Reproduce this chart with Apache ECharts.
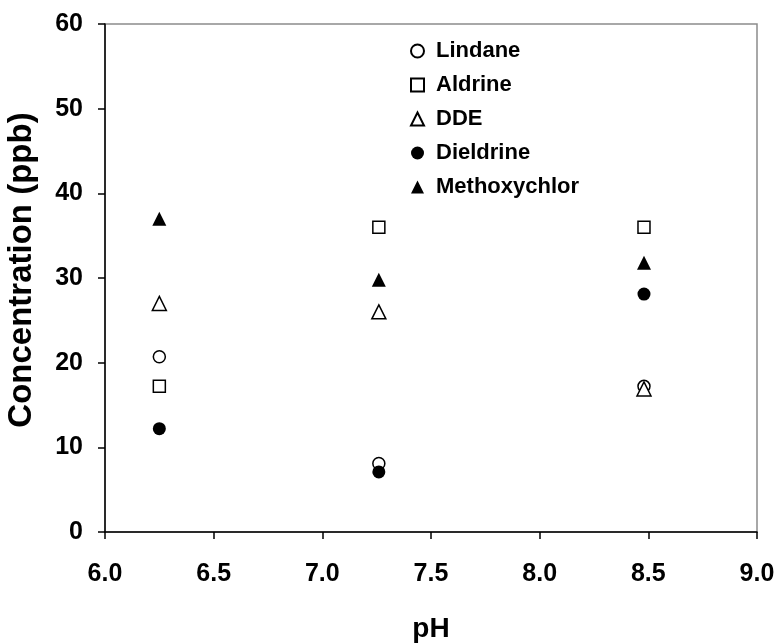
<!DOCTYPE html>
<html lang="en">
<head>
    <meta charset="UTF-8">
    <title>Concentration vs pH</title>
    <script src="https://cdn.jsdelivr.net/npm/echarts@6/dist/echarts.min.js"></script>
    <style>
        html, body { margin: 0; padding: 0; background: #fff; }
    </style>
</head>
<body>
    <div id="main" style="width: 778px; height: 644px;"></div>
    <script>
        var phValues = [6.25, 7.26, 8.48]
        var lindane = [20.7, 8.1, 17.2]
        var aldrine = [17.2, 36, 36]
        var dde = [27, 26, 16.9]
        var dieldrine = [12.2, 7.1, 28.1]
        var methoxychlor = [37, 29.8, 31.8]

        var font = "'Liberation Sans', Arial, sans-serif"

        function pairs(vals) {
            return vals.map(function (v, i) { return [phValues[i], v] })
        }

        var hollow = { color: '#fff', borderColor: '#000', borderWidth: 1.5, opacity: 1 }
        var filled = { color: '#000', borderColor: '#000', borderWidth: 0, opacity: 1 }

        var myChart = echarts.init(document.getElementById('main'))
        var option = {
            animation: false,
            backgroundColor: '#fff',
            grid: {
                left: 105, right: 21, top: 24, bottom: 112,
                outerBoundsMode: 'none',
                containLabel: false,
                show: true,
                borderColor: '#8c8c8c',
                borderWidth: 1.5
            },
            legend: {
                orient: 'vertical',
                left: 410,
                top: 40,
                padding: 0,
                itemWidth: 13,
                itemHeight: 13,
                itemGap: 12,
                textStyle: {
                    fontFamily: font,
                    fontSize: 22,
                    fontWeight: 'bold',
                    color: '#000',
                    lineHeight: 22,
                    padding: [0, 0, 0, 7]
                },
                data: ['Lindane', 'Aldrine', 'DDE', 'Dieldrine', 'Methoxychlor']
            },
            xAxis: {
                type: 'value',
                min: 6, max: 9, interval: 0.5,
                name: 'pH',
                nameLocation: 'middle',
                nameGap: 83,
                nameTextStyle: { fontFamily: font, fontSize: 28, fontWeight: 'bold', color: '#000' },
                axisLine: { lineStyle: { color: '#000', width: 1.5 } },
                axisTick: { show: true, inside: false, length: 7, lineStyle: { color: '#000', width: 1.5 } },
                axisLabel: {
                    margin: 30,
                    fontFamily: font, fontSize: 25, fontWeight: 'bold', color: '#000',
                    formatter: function (v) { return v.toFixed(1) }
                },
                splitLine: { show: false }
            },
            yAxis: {
                type: 'value',
                min: 0, max: 60, interval: 10,
                name: 'Concentration (ppb)',
                nameLocation: 'middle',
                nameGap: 67,
                nameTextStyle: {
                    fontFamily: font, fontSize: 33, fontWeight: 'bold', color: '#000',
                    padding: [0, 0, 0, 16]
                },
                axisLine: { show: true, lineStyle: { color: '#000', width: 1.5 } },
                axisTick: { show: true, inside: false, length: 7, lineStyle: { color: '#000', width: 1.5 } },
                axisLabel: { margin: 22, fontFamily: font, fontSize: 25, fontWeight: 'bold', color: '#000' },
                splitLine: { show: false }
            },
            series: [
                { name: 'Lindane', type: 'scatter', symbol: 'circle', symbolSize: 12, itemStyle: hollow, data: pairs(lindane) },
                { name: 'Aldrine', type: 'scatter', symbol: 'rect', symbolSize: 12, itemStyle: hollow, data: pairs(aldrine) },
                { name: 'DDE', type: 'scatter', symbol: 'triangle', symbolSize: 14, itemStyle: hollow, data: pairs(dde) },
                { name: 'Dieldrine', type: 'scatter', symbol: 'circle', symbolSize: 13, itemStyle: filled, data: pairs(dieldrine) },
                { name: 'Methoxychlor', type: 'scatter', symbol: 'triangle', symbolSize: 14, itemStyle: filled, data: pairs(methoxychlor) }
            ]
        }
        myChart.setOption(option)
    </script>
</body>
</html>
